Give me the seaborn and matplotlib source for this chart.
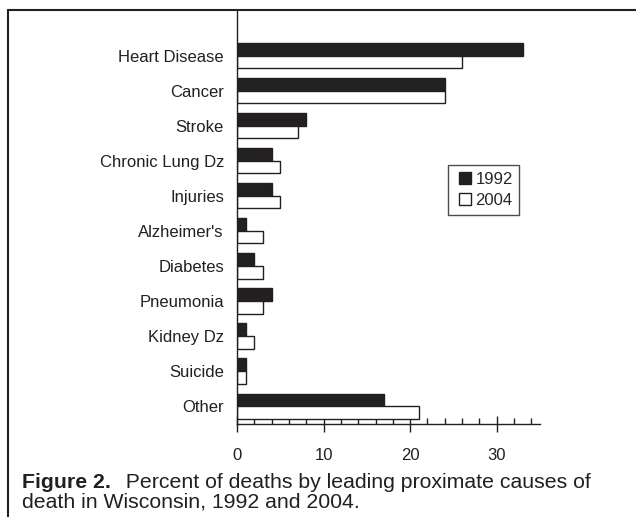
import matplotlib
matplotlib.use("Agg")
import matplotlib.pyplot as plt
from matplotlib.lines import Line2D
from matplotlib.ticker import MultipleLocator
import seaborn as sns
import pandas as pd

causes = ["Heart Disease", "Cancer", "Stroke", "Chronic Lung Dz", "Injuries",
          "Alzheimer's", "Diabetes", "Pneumonia", "Kidney Dz", "Suicide", "Other"]
pct_1992 = [33, 24, 8, 4, 4, 1, 2, 4, 1, 1, 17]
pct_2004 = [26, 24, 7, 5, 5, 3, 3, 3, 2, 1, 21]
years = ["1992", "2004"]

df = pd.DataFrame({
    "cause": causes * 2,
    "pct": pct_1992 + pct_2004,
    "year": [years[0]] * len(causes) + [years[1]] * len(causes),
})

ink = "#231f20"
sns.set_style("white")
plt.rcParams["font.family"] = ["Liberation Sans", "DejaVu Sans"]

fig = plt.figure(figsize=(6.36, 5.17), dpi=100)
ax = fig.add_axes([237 / 636, 1 - 424 / 517, (540 - 237) / 636, (424 - 10) / 517])

sns.barplot(data=df, y="cause", x="pct", hue="year", orient="h",
            palette={"1992": ink, "2004": "white"}, width=0.72,
            edgecolor=ink, linewidth=1.0, ax=ax, legend=False)

ax.set_xlim(0, 35)
ax.set_ylim(10.51, -1.3)
ax.set_xlabel("")
ax.set_ylabel("")
ax.xaxis.set_major_locator(MultipleLocator(10))
ax.xaxis.set_minor_locator(MultipleLocator(2))
ax.tick_params(axis="x", which="major", direction="inout", length=12, width=1,
               color=ink, labelsize=12, pad=11, bottom=True, labelcolor=ink)
ax.tick_params(axis="x", which="minor", direction="in", length=4, width=1,
               color=ink, bottom=True)
ax.tick_params(axis="y", length=0, pad=9.4, labelsize=12, labelcolor=ink)
for s in ["top", "right"]:
    ax.spines[s].set_visible(False)
for s in ["left", "bottom"]:
    ax.spines[s].set_color(ink)
    ax.spines[s].set_linewidth(1.0)

handles = [Line2D([], [], ls="none", marker="s", markersize=8, markerfacecolor=fc,
                  markeredgecolor=ink, markeredgewidth=1, label=y)
           for fc, y in zip([ink, "white"], years)]
leg = ax.legend(handles=handles, loc="upper left", bbox_to_anchor=(0.696, 0.626),
                fontsize=12, frameon=True, fancybox=False, handlelength=1.2,
                handletextpad=0.05, borderpad=0.4, labelspacing=0.4,
                borderaxespad=0)
leg.get_frame().set_edgecolor(ink)
leg.get_frame().set_linewidth(1.0)

# figure frame (top and left edges)
fig.add_artist(Line2D([8 / 636, 1], [1 - 10 / 517] * 2, color=ink, lw=1.5))
fig.add_artist(Line2D([8 / 636] * 2, [0, 1 - 10 / 517], color=ink, lw=1.5))

# caption
cap = fig.text(22 / 636, 1 - 488 / 517, "Figure 2.", fontsize=15.3,
               fontweight="bold", va="baseline", ha="left", color=ink)
ax.annotate("  Percent of deaths by leading proximate causes of", xy=(1, 0),
            xycoords=cap, xytext=(2, 0), textcoords="offset points",
            va="bottom", ha="left", fontsize=15.3, color=ink, annotation_clip=False)
fig.text(22 / 636, 1 - 508 / 517, "death in Wisconsin, 1992 and 2004.",
         fontsize=15.3, va="baseline", ha="left", color=ink)

fig.savefig("out.png", dpi=100)
